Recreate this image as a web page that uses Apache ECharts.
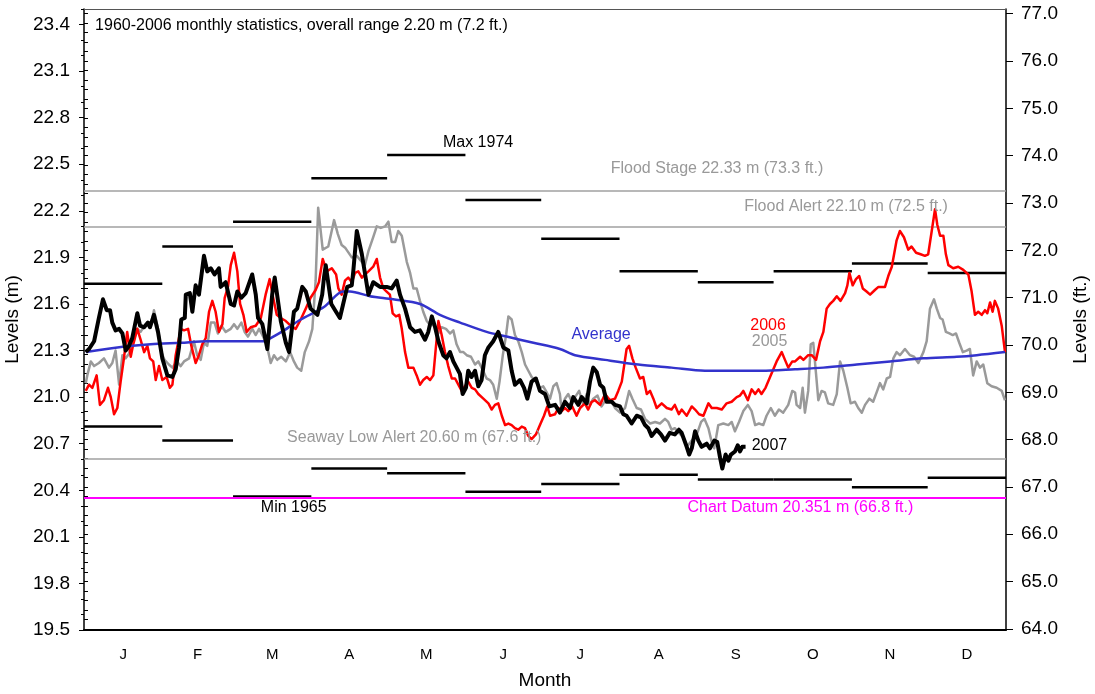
<!DOCTYPE html>
<html><head><meta charset="utf-8">
<script src="https://cdn.jsdelivr.net/npm/echarts@6/dist/echarts.min.js"></script>
<style>html,body{margin:0;padding:0;background:#fff}#c{width:1095px;height:694px}</style>
</head><body><div id="c"></div>
<script>
// ---------- data ----------
const monthLabels = ['J','F','M','A','M','J','J','A','S','O','N','D'];
const monthStarts = [0,31,59,90,120,151,181,212,243,273,304,334,365];
const leftTickLabels = [19.5,19.8,20.1,20.4,20.7,21.0,21.3,21.6,21.9,22.2,22.5,22.8,23.1,23.4];
const rightTickLabels = [64,65,66,67,68,69,70,71,72,73,74,75,76,77];
const levelMin = 19.5, levelMax = 23.5;
const M_TO_FT = 3.28084;

const monthlyMax = [21.73,21.97,22.13,22.41,22.56,22.27,22.02,21.81,21.74,21.81,21.86,21.80];
const monthlyMin = [20.81,20.72,20.36,20.54,20.51,20.39,20.44,20.50,20.47,20.47,20.42,20.48];

const floodStage = 22.33, floodAlert = 22.10, seawayLow = 20.60, chartDatum = 20.351;

const avgLevel = [[0.7,21.29],[13.2,21.32],[26.4,21.34],[38.3,21.35],[48.8,21.36],[71.3,21.36],[73.9,21.38],[79.2,21.43],[85.8,21.50],[95,21.58],[102.6,21.68],[105.3,21.68],[113.2,21.65],[122.4,21.63],[133,21.60],[140.9,21.53],[148.9,21.48],[159.4,21.42],[167.3,21.39],[177.9,21.35],[188.4,21.31],[194.4,21.27],[206.3,21.24],[219.4,21.21],[232.6,21.19],[245.8,21.17],[257.7,21.17],[268.3,21.17],[281.5,21.18],[292.7,21.19],[305.9,21.21],[319.1,21.23],[332.3,21.25],[345.5,21.26],[353.4,21.27],[364.6,21.29]];

const y2005 = [[0.7,21.09],[1.3,21.14],[2.7,21.23],[4,21.20],[5.9,21.22],[7.9,21.25],[9.9,21.19],[11.2,21.22],[12.5,21.30],[13.9,21.08],[15.2,21.27],[16.5,21.25],[17.8,21.28],[19.5,21.36],[21.1,21.44],[22.4,21.42],[24.4,21.47],[26.4,21.46],[27.7,21.56],[29.3,21.44],[30.6,21.29],[31.9,21.24],[33.6,21.21],[35,21.19],[36.7,21.23],[38.3,21.20],[39.6,21.23],[41.6,21.25],[43.5,21.36],[44.8,21.27],[46.2,21.24],[47.5,21.35],[48.8,21.33],[50.2,21.48],[51.7,21.48],[53,21.41],[54.4,21.46],[56.1,21.42],[58.1,21.44],[59.4,21.47],[60.7,21.44],[62.3,21.48],[63.6,21.42],[64.9,21.39],[66.6,21.44],[68,21.40],[69.3,21.44],[70.6,21.40],[72.3,21.34],[73.9,21.22],[75.2,21.27],[76.5,21.24],[78.1,21.26],[79.9,21.23],[81.6,21.29],[83.1,21.23],[84.4,21.19],[86,21.17],[87.4,21.29],[89.1,21.36],[90.4,21.44],[91.7,21.75],[92.7,22.22],[94.5,21.95],[96.7,21.97],[99,22.14],[100.5,22.05],[102,21.98],[103.5,21.96],[106,21.90],[108,21.91],[110,21.87],[111.2,21.85],[112.6,21.94],[114.5,22.03],[115.9,22.10],[117.5,22.09],[119.2,22.10],[120.5,22.13],[121.8,22.00],[123.2,22.00],[124.4,22.07],[125.8,22.04],[127.8,21.87],[129.1,21.80],[130.4,21.70],[131.7,21.70],[133,21.62],[134.3,21.55],[135.7,21.49],[137.2,21.46],[138.6,21.47],[140.3,21.41],[141.6,21.45],[143.3,21.44],[144.9,21.41],[146.2,21.43],[147.5,21.34],[148.9,21.29],[150.2,21.29],[151.5,21.27],[153.2,21.26],[154.8,21.21],[156.1,21.23],[157.4,21.19],[159.4,21.12],[160.7,21.11],[162,21.08],[163.4,20.99],[164.5,21.10],[165.8,21.27],[167.1,21.40],[168,21.52],[169.3,21.50],[170.6,21.40],[171.9,21.36],[173.3,21.29],[174.6,21.21],[175.9,21.17],[177.2,21.13],[178.9,21.10],[180.5,21.06],[181.8,21.07],[183.2,21.03],[184.5,20.99],[185.8,21.07],[187.1,21.09],[188.4,21.02],[189.1,20.91],[190.4,20.99],[191.7,21.02],[193.1,20.97],[194.4,21.00],[196,21.04],[197.7,20.95],[199,21.02],[200.3,20.95],[201.6,20.99],[203.3,21.01],[204.9,20.94],[206.9,20.99],[208.9,20.97],[210.2,20.93],[212.2,20.90],[214.2,20.93],[215.8,21.04],[217.1,20.99],[218.8,20.93],[220.5,20.92],[222.1,20.86],[224.1,20.83],[226.1,20.84],[228,20.83],[230,20.86],[231.3,20.84],[232.6,20.79],[233.9,20.80],[235.5,20.77],[237.3,20.74],[238.6,20.68],[240.6,20.72],[242.6,20.76],[244.3,20.84],[245.6,20.86],[247.2,20.80],[248.5,20.71],[249.5,20.67],[251.1,20.82],[253.1,20.83],[255.1,20.82],[256.4,20.84],[257.7,20.78],[259.3,20.84],[261,20.91],[262.8,20.95],[264.3,20.91],[265.7,20.82],[267.2,20.83],[268.9,20.82],[270.2,20.88],[271.9,20.93],[273.5,20.88],[275.1,20.92],[276.8,20.90],[278.8,20.95],[280.4,21.04],[281.5,21.03],[282.1,20.95],[283.5,20.93],[284.5,21.06],[285.4,20.90],[286.7,21.04],[287.7,21.34],[288.7,21.35],[289.8,21.15],[290.7,20.98],[292,21.04],[293.3,21.03],[294.6,20.96],[296.6,20.95],[298,21.02],[299.3,21.23],[300.6,21.17],[302.2,21.06],[303.5,20.96],[305.2,20.97],[306.5,20.93],[307.9,20.90],[309.2,20.95],[310.9,20.99],[312.4,20.97],[314,21.04],[315.1,21.09],[316.4,21.05],[317.8,21.12],[319.1,21.13],[320.4,21.25],[321.7,21.29],[323,21.27],[325,21.31],[327,21.27],[328.6,21.26],[330.3,21.22],[332.3,21.29],[333.6,21.36],[334.9,21.57],[336.5,21.63],[337.6,21.57],[338.9,21.51],[339.9,21.50],[341.2,21.42],[342.6,21.41],[343.9,21.40],[345.2,21.41],[346.5,21.35],[347.9,21.29],[349.4,21.30],[350.7,21.31],[352,21.14],[353.4,21.23],[354.7,21.19],[356,21.21],[357.6,21.09],[359.3,21.07],[361.3,21.06],[363.3,21.04],[364.6,20.98]];

const y2006 = [[0.7,21.04],[2,21.08],[3.3,21.06],[5,21.14],[6.3,20.95],[7.9,20.98],[9.5,21.06],[10.6,21.00],[11.9,20.89],[13.2,20.93],[14.5,21.10],[15.8,21.25],[17.1,21.42],[18.5,21.26],[19.5,21.34],[21.1,21.44],[22.4,21.37],[23.8,21.29],[25.1,21.33],[26.1,21.25],[27.4,21.23],[28.4,21.11],[29.7,21.20],[31,21.11],[32.7,21.13],[34,21.06],[35,21.08],[36.3,21.27],[38.3,21.44],[39.6,21.43],[41.2,21.44],[42.5,21.33],[44.2,21.22],[45.5,21.27],[46.8,21.34],[48.2,21.38],[49.5,21.55],[50.8,21.62],[52.1,21.55],[53.4,21.42],[54.8,21.47],[55.7,21.64],[57,21.71],[58.1,21.85],[59.4,21.93],[60.7,21.81],[61.8,21.60],[63.1,21.53],[64.4,21.42],[66,21.45],[68,21.46],[70,21.51],[71.9,21.66],[73.5,21.76],[74.9,21.64],[76.3,21.53],[77.9,21.51],[79.9,21.49],[81.8,21.46],[83.8,21.44],[85.8,21.50],[87.8,21.57],[89.7,21.64],[91.7,21.69],[93,21.74],[94.5,21.89],[96.1,21.81],[98.1,21.83],[99.8,21.79],[100.7,21.70],[102,21.66],[103.3,21.75],[104.6,21.77],[106,21.74],[107.3,21.80],[108.6,21.81],[110,21.77],[111.2,21.79],[112.6,21.81],[114.5,21.84],[115.9,21.89],[117.2,21.77],[118.5,21.70],[119.8,21.68],[121.1,21.66],[122.2,21.54],[123.5,21.52],[124.8,21.53],[125.8,21.44],[127.1,21.29],[128.4,21.19],[130.4,21.19],[131.7,21.14],[133,21.08],[134.3,21.11],[135.7,21.13],[137,21.11],[138.3,21.14],[139.3,21.32],[140.3,21.49],[141.6,21.40],[142.9,21.29],[144.2,21.20],[145.6,21.12],[146.9,21.12],[148.2,21.08],[149.5,21.04],[150.8,21.07],[152.1,21.10],[153.5,21.06],[154.8,21.05],[156.1,21.02],[158.1,20.99],[160.1,20.96],[161.4,20.92],[162.7,20.95],[164,20.96],[165.4,20.88],[166.7,20.82],[168,20.83],[169.3,20.82],[170.6,20.80],[171.9,20.79],[173.3,20.81],[174.6,20.80],[175.9,20.75],[177.2,20.73],[178.9,20.76],[180.5,20.82],[182.1,20.88],[183.4,20.94],[184.5,20.88],[186.5,20.89],[187.8,20.93],[189.1,20.91],[190.4,20.93],[191.7,20.91],[193.3,20.94],[195,20.88],[196.4,20.93],[198.3,20.96],[199.6,20.92],[201,20.97],[202.3,20.98],[204.3,20.95],[206.3,21.02],[208.2,20.98],[210.2,20.99],[211.5,21.04],[212.9,21.10],[213.9,21.21],[214.8,21.31],[215.8,21.33],[217.1,21.25],[218.4,21.19],[220.1,21.12],[221.4,21.13],[222.8,21.02],[224.1,21.04],[225.4,20.99],[226.7,20.93],[228.7,20.96],[230.7,20.93],[232.6,20.92],[233.9,20.95],[235.5,20.89],[236.6,20.92],[238.6,20.88],[240.6,20.94],[241.9,20.92],[243.5,20.89],[245.2,20.88],[247.2,20.96],[248.5,20.93],[250.5,20.93],[252.5,20.92],[254.4,20.96],[256.4,20.97],[258.4,21.00],[259.7,21.01],[261,21.04],[262.8,20.98],[264.3,21.05],[265.7,21.02],[267,21.05],[268.2,21.02],[269.8,21.06],[271.6,21.13],[272.9,21.18],[274.2,21.23],[276.2,21.29],[277.5,21.24],[278.8,21.19],[280.4,21.23],[281.5,21.23],[283.5,21.26],[284.8,21.24],[286.7,21.27],[288.1,21.27],[289.8,21.24],[291.4,21.36],[292.7,21.42],[294,21.57],[295.3,21.60],[296.6,21.62],[298,21.65],[299.5,21.62],[301.3,21.67],[302.2,21.72],[303,21.80],[304.3,21.72],[305.6,21.76],[306.9,21.78],[308.3,21.70],[309.8,21.68],[311.2,21.66],[313.1,21.69],[314.5,21.71],[317.1,21.71],[318.4,21.78],[319.8,21.84],[321.7,22.01],[323,22.07],[324.6,22.03],[326.3,21.95],[327.6,21.97],[329.4,21.93],[331.2,21.92],[332.9,21.91],[334.2,21.92],[335.6,22.07],[336.9,22.21],[337.8,22.11],[338.9,22.04],[340.2,22.04],[341.2,21.92],[342.2,21.85],[344.1,21.83],[346.1,21.84],[348.1,21.82],[350.1,21.79],[351.4,21.68],[352.7,21.53],[354,21.55],[355.4,21.53],[356.7,21.56],[357.6,21.54],[358.7,21.61],[359.7,21.55],[360.6,21.62],[361.9,21.57],[363.3,21.46],[364.6,21.29]];

const y2007 = [[0.7,21.29],[2,21.31],[4,21.36],[5.9,21.51],[7.5,21.63],[9,21.56],[10.3,21.56],[11.2,21.48],[12.5,21.43],[13.9,21.44],[15.2,21.41],[16.5,21.30],[17.8,21.33],[19.1,21.38],[21.1,21.54],[22.2,21.46],[23.8,21.45],[25.3,21.48],[26.1,21.45],[27.7,21.53],[29.3,21.42],[31,21.25],[33,21.14],[35,21.13],[36.3,21.18],[37.6,21.32],[38.5,21.50],[39.9,21.51],[40.3,21.66],[41.9,21.67],[42.9,21.55],[44.2,21.72],[45.5,21.66],[47.5,21.91],[48.8,21.81],[50.2,21.83],[51.7,21.79],[53.4,21.83],[54.1,21.71],[56.1,21.74],[58.1,21.60],[59.4,21.59],[60.7,21.68],[62.3,21.64],[64,21.67],[66.6,21.79],[68,21.66],[68.9,21.51],[70.6,21.47],[72.6,21.31],[74.5,21.66],[75.5,21.77],[77.9,21.49],[79.9,21.35],[81.2,21.29],[83.1,21.55],[84.4,21.57],[86.4,21.71],[87.8,21.68],[89.7,21.57],[92.4,21.53],[94.3,21.66],[95,21.77],[95.7,21.85],[97.9,21.60],[99.4,21.56],[101.3,21.51],[102.6,21.60],[104.2,21.71],[106,21.72],[106.6,21.81],[108,22.07],[110,21.92],[111.3,21.79],[112.6,21.66],[114.5,21.74],[117.2,21.71],[119.8,21.71],[121.8,21.70],[123.8,21.75],[125.1,21.66],[127.1,21.57],[129.1,21.45],[131,21.42],[133,21.43],[135,21.37],[136.3,21.42],[137.7,21.52],[139,21.45],[140.3,21.36],[142.2,21.27],[143.5,21.25],[144.9,21.29],[146.2,21.23],[147.5,21.19],[148.8,21.15],[149.9,21.02],[151.2,21.06],[152.1,21.17],[153.4,21.13],[154.8,21.17],[156.1,21.07],[157.4,21.11],[158.7,21.27],[160.1,21.32],[162,21.36],[164,21.42],[166,21.32],[168,21.30],[169.3,21.17],[170.6,21.08],[172.6,21.11],[174.2,21.06],[175.5,20.99],[177.2,21.10],[178.9,21.12],[180.5,21.04],[182.5,21.02],[184.2,20.94],[186.5,20.95],[188.4,20.90],[190.4,20.97],[192.4,20.93],[193.7,21.00],[195.7,20.95],[197,21.00],[199,20.96],[200.3,21.10],[201.6,21.19],[203,21.16],[204.3,21.08],[205.6,21.06],[206.9,20.97],[208.9,20.97],[210.2,20.95],[212.2,20.94],[213.5,20.89],[214.8,20.88],[216.8,20.83],[218.8,20.88],[220.5,20.87],[222.1,20.82],[223.4,20.80],[224.7,20.75],[226.7,20.79],[228.4,20.76],[230,20.72],[231.9,20.77],[233.9,20.76],[235.5,20.79],[236.6,20.77],[238.6,20.68],[239.6,20.63],[240.6,20.67],[241.9,20.78],[243.2,20.72],[244.5,20.68],[246.5,20.70],[247.8,20.67],[249.5,20.72],[250.7,20.71],[251.8,20.61],[252.7,20.54],[254,20.63],[255.1,20.59],[256.1,20.63],[257.7,20.65],[258.8,20.69],[259.7,20.65],[260.6,20.68],[261.9,20.68]];

// ---------- chart ----------
const FONT = "'Liberation Sans', Arial, sans-serif";
const monthMids = monthLabels.map((_, i) => (monthStarts[i] + monthStarts[i + 1]) / 2);
const leftMinor = [], rightMinor = [];
for (let k = 0; k <= Math.round((levelMax - levelMin) * 10); k++) leftMinor.push(+(levelMin + k * 0.1).toFixed(2));
for (let k = 0; k <= 65; k++) rightMinor.push(+(64 + k * 0.2).toFixed(2));

const chart = echarts.init(document.getElementById('c'));
const segSeries = (name, vals) => ({
  name, type: 'custom', xAxisIndex: 0, yAxisIndex: 0, silent: true, z: 3,
  encode: { x: [0, 1], y: 2 },
  data: vals.map((v, i) => [monthStarts[i], monthStarts[i + 1], v]),
  renderItem: (params, api) => {
    const s = api.coord([api.value(0), api.value(2)]);
    const e = api.coord([api.value(1), api.value(2)]);
    return { type: 'line', shape: { x1: s[0], y1: s[1], x2: e[0], y2: e[1] }, style: { stroke: '#000', lineWidth: 2.5 } };
  }
});
const lineSeries = (name, data, color, width, z) => ({
  name, type: 'line', data, showSymbol: false, symbol: 'none', z,
  lineStyle: { color, width, join: 'round' }, itemStyle: { color }
});

chart.setOption({
  animation: false,
  textStyle: { fontFamily: FONT },
  grid: { left: 84, right: 89, top: 9, bottom: 64, containLabel: false, outerBoundsMode: 'none' },
  xAxis: [
    { type: 'value', position: 'bottom', min: 0, max: 365,
      axisLine: { show: true, lineStyle: { color: '#000', width: 2 } },
      axisTick: { show: false }, splitLine: { show: false },
      axisLabel: { customValues: monthMids, fontSize: 15, color: '#000', margin: 17, fontFamily: FONT,
        formatter: v => { const i = monthMids.findIndex(m => Math.abs(m - v) < 0.01); return i >= 0 ? monthLabels[i] : ''; } },
      name: 'Month', nameLocation: 'middle', nameGap: 41,
      nameTextStyle: { fontSize: 19, color: '#000', fontFamily: FONT } },
    { type: 'value', position: 'top', min: 0, max: 365,
      axisLine: { show: true, onZero: false, lineStyle: { color: '#555', width: 1 } },
      axisTick: { show: false }, axisLabel: { show: false }, splitLine: { show: false } }
  ],
  yAxis: [
    { type: 'value', position: 'left', min: levelMin, max: levelMax,
      axisLine: { show: true, onZero: false, lineStyle: { color: '#000', width: 1.5 } },
      axisTick: { show: true, customValues: leftTickLabels, length: 5, lineStyle: { color: '#000', width: 1 } },
      axisLabel: { customValues: leftTickLabels, formatter: v => v.toFixed(1), fontSize: 19, color: '#000', margin: 14, fontFamily: FONT },
      splitLine: { show: false },
      name: 'Levels (m)', nameLocation: 'middle', nameRotate: 90, nameGap: 55,
      nameTextStyle: { fontSize: 19, color: '#000', fontFamily: FONT } },
    { type: 'value', position: 'right', min: levelMin * M_TO_FT, max: levelMax * M_TO_FT,
      axisLine: { show: true, onZero: false, lineStyle: { color: '#000', width: 1.5 } },
      axisTick: { show: true, customValues: rightTickLabels, length: 7, lineStyle: { color: '#000', width: 1 } },
      axisLabel: { customValues: rightTickLabels, formatter: v => v.toFixed(1), fontSize: 19, color: '#000', margin: 15, fontFamily: FONT },
      splitLine: { show: false },
      name: 'Levels (ft.)', nameLocation: 'middle', nameRotate: 90, nameGap: 65,
      nameTextStyle: { fontSize: 19, color: '#000', fontFamily: FONT } },
    { type: 'value', position: 'left', min: levelMin, max: levelMax,
      axisLine: { show: false }, axisLabel: { show: false }, splitLine: { show: false },
      axisTick: { show: true, customValues: leftMinor, length: 3, lineStyle: { color: '#000', width: 1 } } },
    { type: 'value', position: 'right', min: levelMin * M_TO_FT, max: levelMax * M_TO_FT,
      axisLine: { show: false }, axisLabel: { show: false }, splitLine: { show: false },
      axisTick: { show: true, customValues: rightMinor, length: 4, lineStyle: { color: '#000', width: 1 } } }
  ],
  series: [
    { name: 'refs', type: 'line', data: [], silent: true,
      markLine: { symbol: 'none', silent: true, label: { show: false }, animation: false,
        data: [
          { yAxis: floodStage, lineStyle: { color: '#a0a0a0', width: 1.5, type: 'solid' } },
          { yAxis: floodAlert, lineStyle: { color: '#a0a0a0', width: 1.5, type: 'solid' } },
          { yAxis: seawayLow, lineStyle: { color: '#a0a0a0', width: 1.5, type: 'solid' } },
          { yAxis: chartDatum, lineStyle: { color: '#ff00ff', width: 2, type: 'solid' } }
        ] } },
    segSeries('Monthly max', monthlyMax),
    segSeries('Monthly min', monthlyMin),
    lineSeries('2005', y2005, '#9a9a9a', 2.5, 4),
    lineSeries('2006', y2006, '#ff0000', 2.5, 5),
    Object.assign(lineSeries('Average', avgLevel, '#3333cc', 2.5, 6), { smooth: 0.3 }),
    lineSeries('2007', y2007, '#000000', 4, 7)
  ]
});

// ---------- text annotations (placed in data coordinates) ----------
const fmtRef = (name, v, d) => `${name} ${v.toFixed(d)} m (${(v * M_TO_FT).toFixed(1)} ft.)`;
const annotations = [
  { text: '1960-2006 monthly statistics, overall range 2.20 m (7.2 ft.)', at: [4.4, 23.39], align: 'left', color: '#000' },
  { text: 'Max 1974', at: [142.1, 22.64], align: 'left', color: '#000' },
  { text: 'Min 1965', at: [70, 20.29], align: 'left', color: '#000' },
  { text: fmtRef('Flood Stage', floodStage, 2), at: [250.6, 22.47], align: 'center', color: '#999' },
  { text: fmtRef('Flood Alert', floodAlert, 2), at: [301.7, 22.23], align: 'center', color: '#999' },
  { text: fmtRef('Seaway Low Alert', seawayLow, 2), at: [80.4, 20.74], align: 'left', color: '#999' },
  { text: fmtRef('Chart Datum', chartDatum, 3), at: [283.6, 20.29], align: 'center', color: '#ff00ff' },
  { text: 'Average', at: [204.7, 21.40], align: 'center', color: '#3333cc' },
  { text: '2006', at: [270.8, 21.46], align: 'center', color: '#ff0000' },
  { text: '2005', at: [271.4, 21.36], align: 'center', color: '#999' },
  { text: '2007', at: [264.3, 20.69], align: 'left', color: '#000' }
];
chart.setOption({
  graphic: annotations.map(a => {
    const p = chart.convertToPixel({ xAxisIndex: 0, yAxisIndex: 0 }, a.at);
    return { type: 'text', x: p[0], y: p[1], z: 100, silent: true,
      style: { text: a.text, fill: a.color, font: `16px ${FONT}`, textAlign: a.align, textVerticalAlign: 'middle' } };
  })
});
</script></body></html>
